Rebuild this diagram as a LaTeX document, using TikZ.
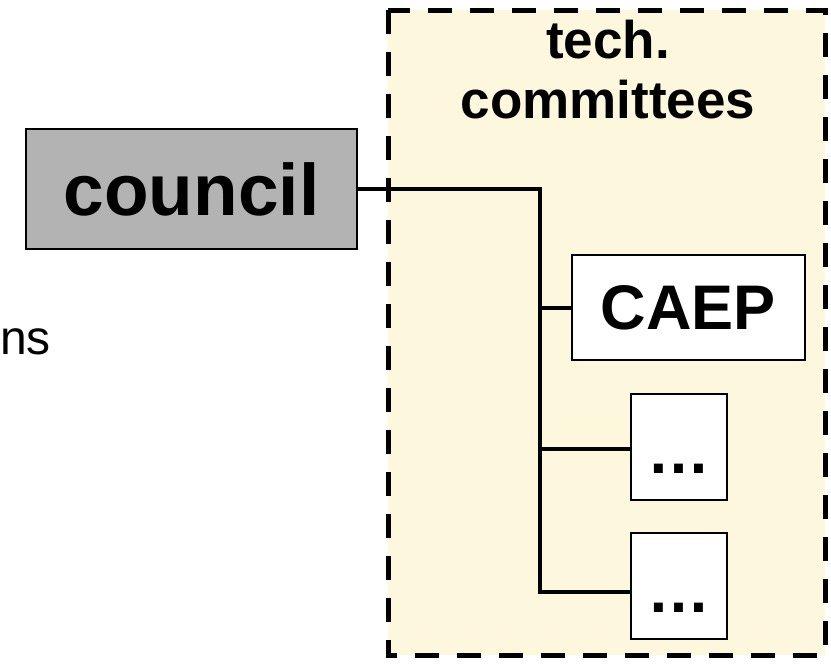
\documentclass[tikz,border=0pt]{standalone}
\usepackage{fontspec}
\setmainfont{Liberation Sans}
\definecolor{paleyellow}{RGB}{253,247,221}
\definecolor{councilgray}{RGB}{179,179,179}
\tikzset{
  x=1pt, y=-1pt,
  group/.style={draw=black, line width=5pt, dash pattern=on 24pt off 18pt, fill=paleyellow},
  box/.style={draw=black, line width=2pt, inner sep=0pt, font=\bfseries},
  link/.style={draw=black, line width=4pt},
}
\begin{document}
\begin{tikzpicture}
\useasboundingbox (0,0) rectangle (831,664);
% technical committees group
\path[group] (388,10) rectangle (825,655);
\node[font=\bfseries\fontsize{53}{60}\selectfont, align=center] (title) at (608,70) {tech.\\committees};
% council
\node[box, fill=councilgray, minimum width=331pt, minimum height=120pt,
      font=\bfseries\fontsize{73}{80}\selectfont] (council) at (191.5,189) {council};
% CAEP
\node[box, fill=white, minimum width=233pt, minimum height=105pt,
      font=\bfseries\fontsize{63}{70}\selectfont] (caep) at (688.5,307.5) {CAEP};
% placeholder committees
\node[box, fill=white, minimum width=96pt, minimum height=106pt,
      font=\bfseries\fontsize{63}{70}\selectfont] (dotsa) at (679,447) {\rule{0pt}{52pt}…};
\node[box, fill=white, minimum width=96pt, minimum height=106pt,
      font=\bfseries\fontsize{63}{70}\selectfont] (dotsb) at (679,586) {\rule{0pt}{52pt}…};
% connectors
\coordinate (trunktop) at (540,189);
\coordinate (jcaep) at (540,307.5);
\coordinate (jdotsa) at (540,449);
\coordinate (jdotsb) at (540,592);
\draw[link] (council.east) -- (trunktop) -- (jcaep) -- (jdotsa) -- (jdotsb) -- (jdotsb -| dotsb.west);
\draw[link] (jcaep) -- (caep.west);
\draw[link] (jdotsa) -- (jdotsa -| dotsa.west);
% clipped label on the left
\node[anchor=base west, inner sep=0pt, font=\fontsize{48}{56}\selectfont] (ns) at (0,354) {ns};
\end{tikzpicture}
\end{document}
